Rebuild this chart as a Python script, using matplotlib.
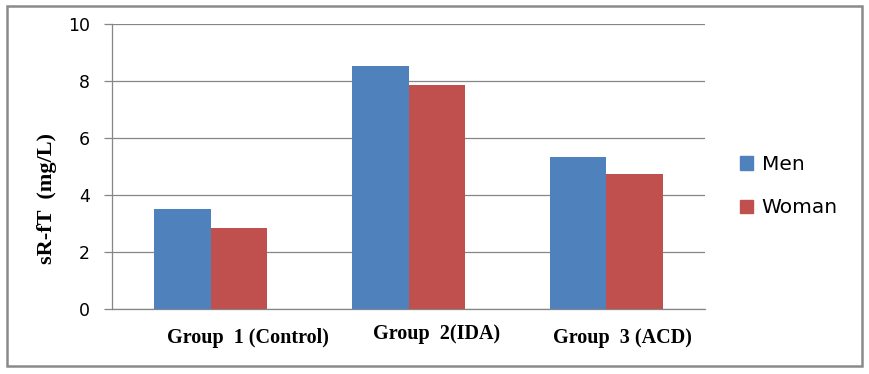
import numpy as np
import matplotlib.pyplot as plt
from matplotlib.patches import Rectangle, Patch

# ================================
# Data
# ================================
groups = ["Group  1 (Control)", "Group  2(IDA)", "Group  3 (ACD)"]
men = [3.52, 8.53, 5.34]
woman = [2.84, 7.86, 4.74]
y_ticks = [0, 2, 4, 6, 8, 10]

blue = "#4F81BD"
red = "#C0504D"
grid_col = "#868686"

# ================================
# Figure
# ================================
fig = plt.figure(figsize=(8.69, 3.74), dpi=100)
ax = fig.add_axes([0.1289, 0.1738, 0.6824, 0.762])

x = np.arange(len(groups))
bw = 0.286
ax.bar(x - bw / 2, men, bw, color=blue, zorder=3)
ax.bar(x + bw / 2, woman, bw, color=red, zorder=3)

ax.set_xlim(-0.5, 2.5)
ax.set_ylim(0, 10)
ax.set_yticks(y_ticks)
ax.set_yticklabels([str(v) for v in y_ticks], fontsize=12.5, family="DejaVu Sans")
ax.set_xticks([])
ax.yaxis.grid(True, color=grid_col, linewidth=0.9, zorder=0)
ax.tick_params(axis="y", length=6, width=0.9, color=grid_col, pad=10)

for s in ["top", "right"]:
    ax.spines[s].set_visible(False)
for s in ["left", "bottom"]:
    ax.spines[s].set_color(grid_col)
    ax.spines[s].set_linewidth(0.9)

# category labels (slightly off-centre, as in the original)
label_dx = [0.19, 0.14, 0.08]
label_y = [338, 334, 338]
for i, g in enumerate(groups):
    fig.text(ax.transData.transform((i + label_dx[i], 0))[0] / fig.bbox.width,
             1 - label_y[i] / 374, g, ha="center", va="center",
             fontsize=14.5, fontweight="bold", family="Liberation Serif")

fig.text(47 / 869, 1 - 199 / 374, "sR-fT  (mg/L)", rotation=90,
         ha="center", va="center", fontsize=16, fontweight="bold",
         family="Liberation Serif")

# legend
handles = [Patch(color=blue), Patch(color=red)]
fig.legend(handles, ["Men", "Woman"], loc="center left",
           bbox_to_anchor=(0.852, 0.502), frameon=False, fontsize=14.5,
           handlelength=0.65, handleheight=0.65, handletextpad=0.4,
           labelspacing=1.2, borderpad=0, borderaxespad=0)

# outer border
fig.patches.append(Rectangle((7 / 869, 1 - 366 / 374), 855 / 869, 360 / 374,
                             transform=fig.transFigure, fill=False,
                             edgecolor="#8A8A8A", linewidth=1.8))

fig.savefig("out.png", dpi=100)
